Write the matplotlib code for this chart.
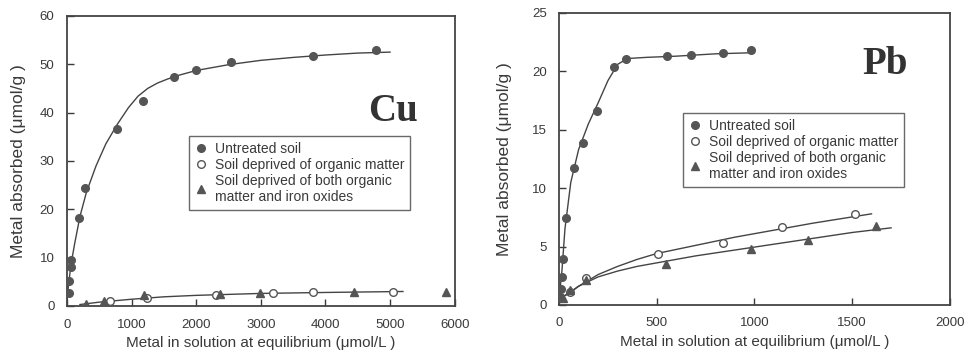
import matplotlib.pyplot as plt
from matplotlib.lines import Line2D

# ---- Cu panel data ----
cu_untreated_x = [35, 35, 65, 65, 180, 275, 775, 1170, 1660, 2000, 2545, 3805, 4785]
cu_untreated_y = [2.6, 5.2, 8.1, 9.5, 18.1, 24.3, 36.5, 42.4, 47.4, 48.9, 50.4, 51.7, 52.9]
cu_om_x = [670, 1240, 2300, 3190, 3805, 5050]
cu_om_y = [1.0, 1.6, 2.3, 2.6, 2.8, 2.9]
cu_omfe_x = [300, 570, 1190, 2370, 2990, 4440, 5860]
cu_omfe_y = [0.5, 1.0, 2.3, 2.5, 2.6, 2.9, 2.9]

# fitted curves
cu_fit1_x = [0, 30, 60, 120, 200, 300, 450, 600, 775, 950, 1100, 1250, 1400, 1550, 1700,
             2000, 2500, 3000, 3500, 4000, 4500, 5000]
cu_fit1_y = [1.5, 5.0, 8.5, 13.0, 18.5, 23.5, 29.0, 33.5, 37.5, 41.0, 43.4, 45.0, 46.1,
             46.9, 47.6, 48.7, 49.9, 50.8, 51.4, 51.9, 52.3, 52.5]
cu_fit2_x = [200, 500, 1000, 1500, 2000, 2500, 3000, 4000, 5200]
cu_fit2_y = [0.3, 0.8, 1.4, 1.9, 2.2, 2.4, 2.6, 2.8, 3.0]

# ---- Pb panel data ----
pb_untreated_x = [5, 10, 15, 22, 36, 78, 121, 196, 283, 341, 551, 673, 839, 982]
pb_untreated_y = [0.7, 1.4, 2.4, 3.9, 7.4, 11.7, 13.9, 16.6, 20.4, 21.1, 21.3, 21.4, 21.6, 21.8]
pb_om_x = [56, 138, 505, 840, 1144, 1514]
pb_om_y = [1.1, 2.3, 4.4, 5.3, 6.7, 7.8]
pb_omfe_x = [22, 56, 138, 545, 985, 1275, 1625]
pb_omfe_y = [0.6, 1.3, 2.1, 3.5, 4.8, 5.6, 6.8]

pb_fit1_x = [0, 15, 30, 60, 100, 150, 200, 250, 300, 350, 450, 600, 800, 1000]
pb_fit1_y = [0.5, 3.0, 6.5, 10.5, 13.3, 15.5, 17.3, 19.2, 20.6, 21.1, 21.2, 21.3, 21.5, 21.6]
pb_fit2_x = [0, 50, 100, 200, 300, 400, 500, 700, 900, 1100, 1300, 1600]
pb_fit2_y = [0.5, 1.0, 1.6, 2.6, 3.3, 3.9, 4.4, 5.1, 5.8, 6.4, 7.0, 7.8]
pb_fit3_x = [0, 50, 100, 200, 300, 400, 500, 700, 900, 1100, 1300, 1500, 1700]
pb_fit3_y = [0.5, 1.0, 1.6, 2.4, 2.9, 3.3, 3.6, 4.2, 4.7, 5.2, 5.7, 6.2, 6.6]

legend_labels = ['Untreated soil', 'Soil deprived of organic matter',
                 'Soil deprived of both organic\nmatter and iron oxides']

plt.rcParams['font.family'] = ['Liberation Sans', 'DejaVu Sans']
ink = '#3a3a3a'
line_c = '#444444'

fig = plt.figure(figsize=(9.74, 3.6), dpi=100)
ax1 = fig.add_axes([0.0688, 0.150, 0.398, 0.806])
ax2 = fig.add_axes([0.574, 0.153, 0.401, 0.811])


def draw_panel(ax, fits, untr, om, omfe, xlim, ylim, xticks, yticks, ylpad):
    for fx, fy in fits:
        ax.plot(fx, fy, '-', color=line_c, lw=1.0, zorder=2)
    ms = 5.5
    ax.plot(untr[0], untr[1], 'o', color='#555555', mec='#555555', ms=ms, zorder=3)
    ax.plot(om[0], om[1], 'o', mfc='white', mec='#555555', mew=1.0, ms=ms, zorder=3)
    ax.plot(omfe[0], omfe[1], '^', color='#555555', mec='#555555', ms=ms, zorder=3)
    ax.set_xlim(*xlim)
    ax.set_ylim(*ylim)
    ax.set_xticks(xticks)
    ax.set_yticks(yticks)
    ax.tick_params(direction='in', length=5, width=1, colors=ink, labelsize=9.5)
    ax.tick_params(axis='x', pad=9)
    ax.tick_params(axis='y', pad=9)
    for s in ax.spines.values():
        s.set_linewidth(1.3)
        s.set_color('#444444')
    ax.set_xlabel('Metal in solution at equilibrium (\u03bcmol/L )', fontsize=11, color=ink, labelpad=4)
    ax.set_ylabel('Metal absorbed (\u03bcmol/g )', fontsize=12.5, color=ink, labelpad=ylpad)


draw_panel(ax1, [(cu_fit1_x, cu_fit1_y), (cu_fit2_x, cu_fit2_y)],
           (cu_untreated_x, cu_untreated_y), (cu_om_x, cu_om_y), (cu_omfe_x, cu_omfe_y),
           (0, 6000), (0, 60), range(0, 6001, 1000), range(0, 61, 10), 10)
draw_panel(ax2, [(pb_fit1_x, pb_fit1_y), (pb_fit2_x, pb_fit2_y), (pb_fit3_x, pb_fit3_y)],
           (pb_untreated_x, pb_untreated_y), (pb_om_x, pb_om_y), (pb_omfe_x, pb_omfe_y),
           (0, 2000), (0, 25), range(0, 2001, 500), range(0, 26, 5), 14)

ax1.text(0.842, 0.67, 'Cu', transform=ax1.transAxes, family='Liberation Serif',
         fontweight='bold', fontsize=28, color='#333333', ha='center', va='center')
ax2.text(0.835, 0.825, 'Pb', transform=ax2.transAxes, family='Liberation Serif',
         fontweight='bold', fontsize=28, color='#333333', ha='center', va='center')

handles = [Line2D([], [], ls='', marker='o', color='#555555', ms=5.5),
           Line2D([], [], ls='', marker='o', mfc='white', mec='#555555', ms=5.5),
           Line2D([], [], ls='', marker='^', color='#555555', ms=5.5)]

for ax, anchor in [(ax1, (189 / 974, 1 - 136 / 360)), (ax2, (683 / 974, 1 - 113 / 360))]:
    leg = ax.legend(handles, legend_labels, loc='upper left', bbox_to_anchor=anchor,
                    bbox_transform=fig.transFigure, fontsize=10, frameon=True,
                    fancybox=False, borderpad=0.45, handlelength=0.8, handletextpad=0.6,
                    labelspacing=0.12, borderaxespad=0)
    leg.get_frame().set_edgecolor('#444444')
    leg.get_frame().set_linewidth(1.0)
    for t in leg.get_texts():
        t.set_color(ink)

fig.savefig('out.png', dpi=100)
